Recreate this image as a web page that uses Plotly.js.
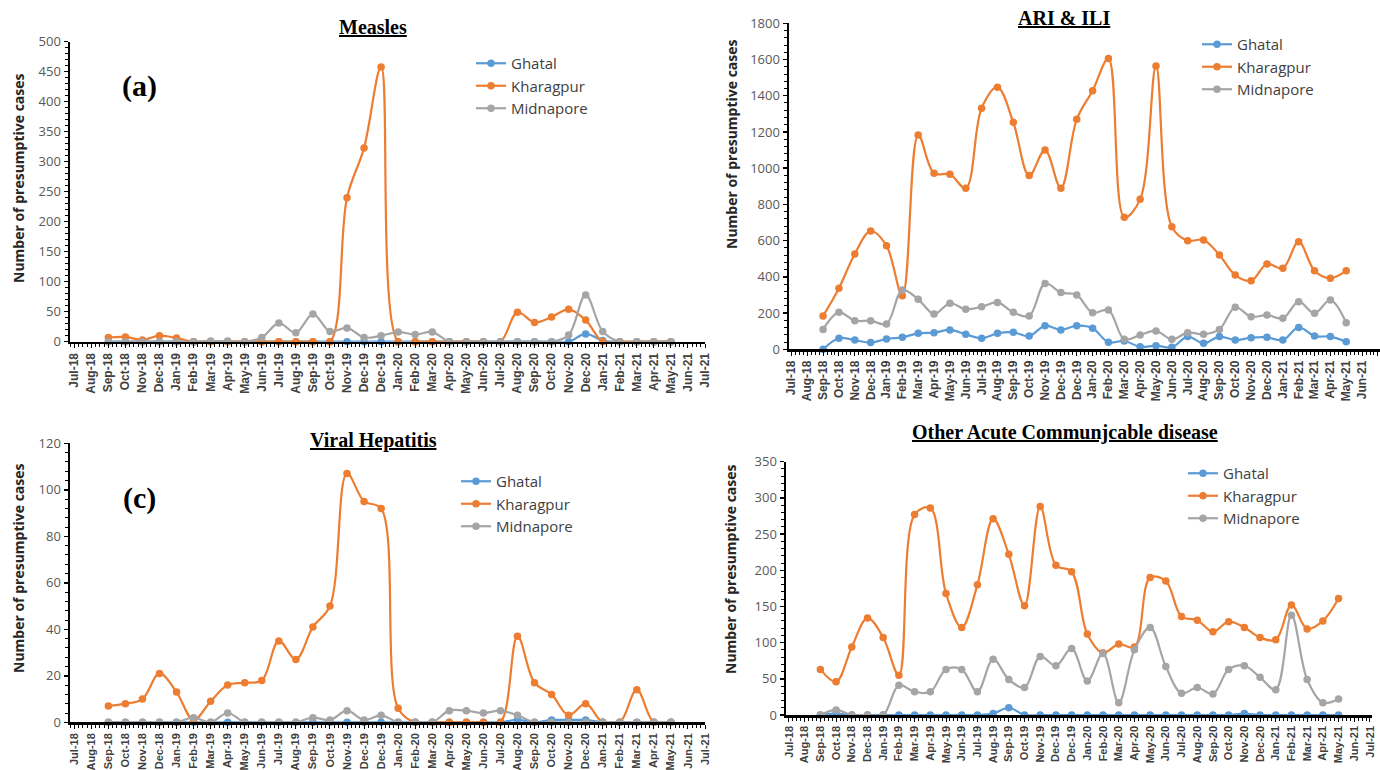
<!DOCTYPE html>
<html>
<head>
<meta charset="utf-8">
<script src="https://cdn.plot.ly/plotly-3.0.1.min.js"></script>
<style>html,body{margin:0;padding:0;background:#fff;}#chart{width:1380px;height:770px;}</style>
</head>
<body>
<div id="chart"></div>
<script>
// Tick labels (Excel date axis shows Dec-19 twice)
var months = ["Jul-18","Aug-18","Sep-18","Oct-18","Nov-18","Dec-18","Jan-19","Feb-19","Mar-19","Apr-19","May-19","Jun-19",
  "Jul-19","Aug-19","Sep-19","Oct-19","Nov-19","Dec-19","Dec-19","Jan-20","Feb-20","Mar-20","Apr-20","May-20","Jun-20",
  "Jul-20","Aug-20","Sep-20","Oct-20","Nov-20","Dec-20","Jan-21","Feb-21","Mar-21","Apr-21","May-21","Jun-21","Jul-21"];

var seriesNames = ["Ghatal","Kharagpur","Midnapore"];

// (a) Measles
var measlesGhatal    = [null,null, 0,0,0,0,0,0,0,0,0,0, 0,0,0,0,0,0,0, 0,0,0,0,0,0,0,0,0,0,0, 13,2,0,0,0,0, null,null];
var measlesKharagpur = [null,null, 7,8,3,10,6,0,0,0,0,0, 0,0,0,0,240,323,458, 0,0,0,0,0,0,0,49,32,41,54, 36,0,0,0,0,0, null,null];
var measlesMidnapore = [null,null, 0,0,0,0,0,0,1,1,0,7, 31,15,46,17,23,7,10, 16,12,16,0,0,0,0,0,0,0,11, 78,17,0,0,0,0, null,null];

// (b) ARI & ILI
var ariGhatal    = [null,null, 0,61,51,37,57,66,88,92,107,83, 61,88,94,73,130,107,130, 116,39,46,14,20,11,70,33,70,51,64, 66,51,121,73,70,42, null,null];
var ariKharagpur = [null,null, 184,337,526,653,572,296,1183,972,966,889, 1331,1447,1253,959,1100,889,1270, 1428,1605,729,828,1564,677,600,604,521,410,379, 471,447,594,434,392,434, null,null];
var ariMidnapore = [null,null, 110,204,158,158,140,327,276,195,254,221, 235,259,204,184,364,313,300, 202,217,55,79,101,55,92,83,110,232,180, 189,171,263,199,272,147, null,null];

// (c) Viral Hepatitis
var hepGhatal    = [null,null, 0,0,0,0,0,0,0,0,0,0, 0,0,0,0,0,0,0, 0,0,0,0,0,0,0,1,0,1,1, 1,0,0,0,0,0, null,null];
var hepKharagpur = [null,null, 7,8,10,21,13,1,9,16,17,18, 35,27,41,50,107,95,92, 6,0,0,0,0,0,0,37,17,12,3, 8,0,0,14,0,0, null,null];
var hepMidnapore = [null,null, 0,0,0,0,0,2,0,4,0,0, 0,0,2,1,5,1,3, 0,0,0,5,5,4,5,3,0,0,0, 0,0,0,0,0,0, null,null];

// (d) Other Acute Communicable disease
var oacGhatal    = [null,null, 0,2,0,0,0,0,0,0,0,0, 0,2,10,0,0,0,0, 0,0,0,0,0,0,0,0,0,0,2, 0,0,0,0,0,0, null,null];
var oacKharagpur = [null,null, 63,46,94,134,107,55,277,286,168,121, 180,271,222,151,288,207,198, 112,86,98,94,190,185,136,131,115,129,121, 107,104,152,119,130,161, null,null];
var oacMidnapore = [null,null, 0,7,0,0,0,41,32,32,63,63, 32,77,49,38,81,68,92, 47,85,17,90,121,67,30,38,29,63,68, 52,35,138,49,17,22, null,null];

var colors = ["#5B9BD5","#ED7D31","#A5A5A5"];
var xIdx = months.map(function(_, i){ return i; });

var W = 1380, H = 770;
function fx(px){ return px / W; }
function fy(py){ return 1 - py / H; }

var panels = [
  {data:[measlesGhatal,measlesKharagpur,measlesMidnapore], xa:'x',  ya:'y',  legend:'legend',
   dom:[70,705], ydom:[341.7,41.7], xr:[-0.25,37.0], yr:[0,500], dt:50, mdt:10, tf:12},
  {data:[ariGhatal,ariKharagpur,ariMidnapore], xa:'x2', ya:'y2', legend:'legend2',
   dom:[789,1380], ydom:[349.3,23.3], xr:[-0.15,37.13], yr:[0,1800], dt:200, mdt:40, tf:12},
  {data:[hepGhatal,hepKharagpur,hepMidnapore], xa:'x3', ya:'y3', legend:'legend3',
   dom:[70,705], ydom:[722.3,443.3], xr:[-0.25,37.0], yr:[0,120], dt:20, mdt:4, tf:11},
  {data:[oacGhatal,oacKharagpur,oacMidnapore], xa:'x4', ya:'y4', legend:'legend4',
   dom:[786,1372], ydom:[715,461.7], xr:[-0.19,37.13], yr:[0,350], dt:50, mdt:10, tf:11}
];

var traces = [];
panels.forEach(function(p, pi){
  p.data.forEach(function(arr, si){
    traces.push({
      type:'scatter', mode:'lines+markers', name: seriesNames[si],
      x: xIdx, y: arr, xaxis: p.xa, yaxis: p.ya, legend: p.legend,
      legendgroup: 'g'+pi+'_'+si,
      line:{color: colors[si], width:2.2, shape:'spline', smoothing:1},
      marker:{color: colors[si], size:7.5, symbol:'circle'},
      connectgaps:false, cliponaxis:false, hoverinfo:'skip'
    });
  });
});

var layout = {
  width: W, height: H, margin:{l:0,r:0,t:0,b:0},
  paper_bgcolor:'#ffffff', plot_bgcolor:'rgba(0,0,0,0)',
  showlegend:true, hovermode:false,
  font:{family:'"Open Sans", "Liberation Sans", sans-serif', color:'#404040'},
  annotations:[]
};

var legendPos = [
  {x:471, y:47}, {x:1197, y:28}, {x:456, y:465}, {x:1183, y:457}
];

panels.forEach(function(p, pi){
  var sx = pi === 0 ? '' : String(pi+1);
  layout['xaxis'+sx] = {
    domain:[fx(p.dom[0]), fx(p.dom[1])], range:p.xr, anchor:p.ya,
    tickmode:'array', tickvals: xIdx, ticktext: months, tickangle:-90,
    tickfont:{family:'"Liberation Sans", Arial, sans-serif', size:p.tf, color:'#404040', weight:'bold'},
    showline:true, linecolor:'#000', linewidth:2.5, ticks:'outside', ticklen:4, tickwidth:1, tickcolor:'#000',
    minor:{tickmode:'linear', tick0:0, dtick:0.25, ticks:'outside', ticklen:3, tickwidth:1, tickcolor:'#000', showgrid:false},
    showgrid:false, zeroline:false, fixedrange:true
  };
  layout['yaxis'+sx] = {
    domain:[fy(p.ydom[0]), fy(p.ydom[1])], range:p.yr, anchor:p.xa,
    tickmode:'linear', tick0:0, dtick:p.dt,
    tickfont:{family:'"Open Sans", sans-serif', size:13, color:'#595959'},
    showline:true, linecolor:'#000', linewidth:2.5, ticks:'outside', ticklen:4, tickwidth:1.5, tickcolor:'#000',
    minor:{tickmode:'linear', tick0:0, dtick:p.mdt, ticks:'outside', ticklen:3, tickwidth:1, tickcolor:'#000', showgrid:false},
    showgrid:false, zeroline:false, fixedrange:true
  };
  var lk = pi === 0 ? 'legend' : 'legend'+(pi+1);
  layout[lk] = {
    x: fx(legendPos[pi].x), y: fy(legendPos[pi].y), xanchor:'left', yanchor:'top',
    bgcolor:'rgba(255,255,255,0)', borderwidth:0,
    font:{family:'"Open Sans", sans-serif', size:15, color:'#404040'},
    traceorder:'grouped', tracegroupgap:0, itemwidth:30
  };
});

// Panel titles
var titles = [
  {t:'Measles', x:373, y:27},
  {t:'ARI &amp; ILI', x:1064, y:18},
  {t:'Viral Hepatitis', x:373, y:440},
  {t:'Other Acute Communjcable disease', x:1065, y:432}
];
titles.forEach(function(o){
  layout.annotations.push({text:'<b><u>'+o.t+'</u></b>', xref:'paper', yref:'paper',
    x: fx(o.x), y: fy(o.y), xanchor:'center', yanchor:'middle', showarrow:false,
    font:{family:'"Liberation Serif", "Times New Roman", serif', size:20, color:'#000'}});
});

// Panel letters
[{t:'(a)', x:139, y:86}, {t:'(c)', x:139, y:498}].forEach(function(o){
  layout.annotations.push({text:'<b>'+o.t+'</b>', xref:'paper', yref:'paper',
    x: fx(o.x), y: fy(o.y), xanchor:'center', yanchor:'middle', showarrow:false,
    font:{family:'"Liberation Serif", "Times New Roman", serif', size:30, color:'#000'}});
});

// Y-axis titles
[{x:19, y:178}, {x:731, y:144}, {x:18, y:568}, {x:730, y:569}].forEach(function(o){
  layout.annotations.push({text:'Number of presumptive cases', xref:'paper', yref:'paper',
    x: fx(o.x), y: fy(o.y), xanchor:'center', yanchor:'middle', showarrow:false, textangle:-90,
    font:{family:'"Open Sans", sans-serif', size:14, color:'#262626', weight:'bold'}});
});

Plotly.newPlot('chart', traces, layout, {displayModeBar:false, staticPlot:true});
</script>
</body>
</html>
